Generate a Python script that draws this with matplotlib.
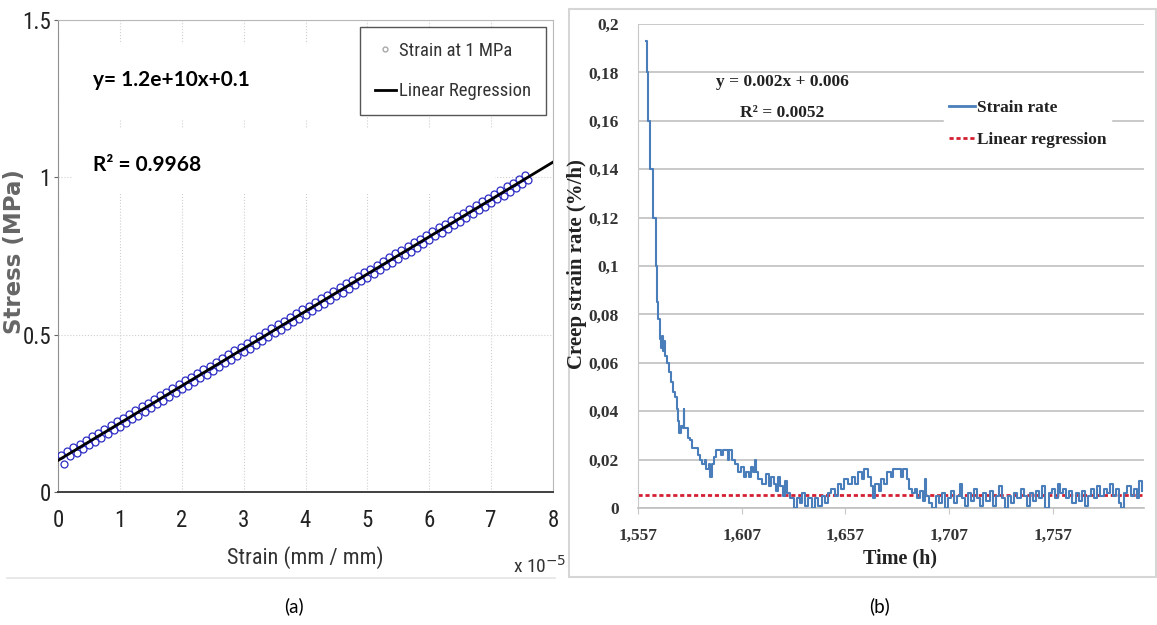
import matplotlib
matplotlib.use('Agg')
import matplotlib.pyplot as plt
import numpy as np
from matplotlib.patches import Rectangle
from matplotlib.lines import Line2D
from matplotlib.ticker import FuncFormatter

W, H = 1157, 625

# ---- (a) stress / strain, strain given in units of 1e-5 mm/mm
# the measured points form two interleaved rows around the fit line
strain_up = [0.05, 0.15, 0.25, 0.35, 0.45, 0.55, 0.65, 0.75, 0.85, 0.95,
             1.05, 1.15, 1.25, 1.35, 1.45, 1.55, 1.65, 1.75, 1.85, 1.95,
             2.05, 2.15, 2.25, 2.35, 2.45, 2.55, 2.65, 2.75, 2.85, 2.95,
             3.05, 3.15, 3.25, 3.35, 3.45, 3.55, 3.65, 3.75, 3.85, 3.95,
             4.05, 4.15, 4.25, 4.35, 4.45, 4.55, 4.65, 4.75, 4.85, 4.95,
             5.05, 5.15, 5.25, 5.35, 5.45, 5.55, 5.65, 5.75, 5.85, 5.95,
             6.05, 6.15, 6.25, 6.35, 6.45, 6.55, 6.65, 6.75, 6.85, 6.95,
             7.05, 7.15, 7.25, 7.35, 7.45, 7.55]
stress_up = [0.118, 0.130, 0.142, 0.153, 0.165, 0.177, 0.189, 0.201, 0.213, 0.225,
             0.236, 0.248, 0.260, 0.272, 0.284, 0.296, 0.308, 0.319, 0.331, 0.343,
             0.355, 0.367, 0.379, 0.390, 0.402, 0.414, 0.426, 0.438, 0.450, 0.462,
             0.473, 0.485, 0.497, 0.509, 0.521, 0.533, 0.544, 0.556, 0.568, 0.580,
             0.592, 0.604, 0.616, 0.627, 0.639, 0.651, 0.663, 0.675, 0.687, 0.699,
             0.710, 0.722, 0.734, 0.746, 0.758, 0.770, 0.781, 0.793, 0.805, 0.817,
             0.829, 0.841, 0.853, 0.864, 0.876, 0.888, 0.900, 0.912, 0.924, 0.935,
             0.947, 0.959, 0.971, 0.983, 0.995, 1.007]
strain_lo = [0.1, 0.2, 0.3, 0.4, 0.5, 0.6, 0.7, 0.8, 0.9, 1.0,
             1.1, 1.2, 1.3, 1.4, 1.5, 1.6, 1.7, 1.8, 1.9, 2.0,
             2.1, 2.2, 2.3, 2.4, 2.5, 2.6, 2.7, 2.8, 2.9, 3.0,
             3.1, 3.2, 3.3, 3.4, 3.5, 3.6, 3.7, 3.8, 3.9, 4.0,
             4.1, 4.2, 4.3, 4.4, 4.5, 4.6, 4.7, 4.8, 4.9, 5.0,
             5.1, 5.2, 5.3, 5.4, 5.5, 5.6, 5.7, 5.8, 5.9, 6.0,
             6.1, 6.2, 6.3, 6.4, 6.5, 6.6, 6.7, 6.8, 6.9, 7.0,
             7.1, 7.2, 7.3, 7.4, 7.5, 7.6]
stress_lo = [0.088, 0.113, 0.125, 0.136, 0.148, 0.160, 0.172, 0.184, 0.196, 0.207,
             0.219, 0.231, 0.243, 0.255, 0.267, 0.279, 0.290, 0.302, 0.314, 0.326,
             0.338, 0.350, 0.362, 0.373, 0.385, 0.397, 0.409, 0.421, 0.433, 0.444,
             0.456, 0.468, 0.480, 0.492, 0.504, 0.516, 0.527, 0.539, 0.551, 0.563,
             0.575, 0.587, 0.598, 0.610, 0.622, 0.634, 0.646, 0.658, 0.670, 0.681,
             0.693, 0.705, 0.717, 0.729, 0.741, 0.753, 0.764, 0.776, 0.788, 0.800,
             0.812, 0.824, 0.836, 0.847, 0.859, 0.871, 0.883, 0.895, 0.907, 0.918,
             0.930, 0.942, 0.954, 0.966, 0.978, 0.990]
xticks_a = [0, 1, 2, 3, 4, 5, 6, 7, 8]
yticks_a = [0, 0.5, 1, 1.5]
ytick_labels_a = ['0', '0.5', '1', '1.5']
eq_a = "y= 1.2e+10x+0.1"
r2_a = "R\u00b2 = 0.9968"

# ---- (b) creep strain rate over time
time_h = [1560.8, 1561.5, 1562.0, 1562.7, 1564.2, 1565.5, 1566.3, 1566.8, 1567.5, 1568.0,
          1568.5, 1569.0, 1569.5, 1570.2, 1571.0, 1572.0, 1573.0, 1574.0, 1575.0, 1575.8,
          1576.5, 1577.0, 1577.8, 1578.5, 1579.0, 1579.3, 1580.5, 1581.0, 1582.0, 1582.8,
          1585.0, 1585.8, 1587.0, 1588.0, 1589.5, 1590.0, 1591.0, 1591.8, 1592.5, 1593.5,
          1594.5, 1597.0, 1598.0, 1600.5, 1601.0, 1602.5, 1604.0, 1605.0, 1606.5, 1608.0,
          1609.0, 1610.5, 1611.5, 1612.5, 1613.5, 1614.0, 1615.0, 1617.0, 1618.5, 1620.0,
          1621.0, 1622.5, 1623.5, 1624.5, 1625.5, 1627.0, 1628.0, 1629.0, 1630.5, 1632.0,
          1633.5, 1635.0, 1636.0, 1637.5, 1639.0, 1641.0, 1642.5, 1644.0, 1645.5, 1647.0,
          1648.5, 1650.0, 1652.0, 1653.5, 1655.0, 1656.5, 1658.5, 1660.0, 1661.5, 1663.0,
          1665.0, 1666.0, 1668.0, 1669.5, 1670.5, 1671.5, 1673.0, 1674.0, 1675.5, 1677.0,
          1679.0, 1680.0, 1684.0, 1685.0, 1686.5, 1687.5, 1689.0, 1690.5, 1691.5, 1693.0,
          1694.5, 1695.5, 1696.0, 1697.5, 1699.0, 1700.5, 1702.0, 1703.5, 1705.0, 1706.5,
          1708.0, 1709.5, 1711.0, 1712.5, 1713.0, 1714.5, 1716.0, 1717.5, 1719.0, 1720.5,
          1722.0, 1723.5, 1725.0, 1726.5, 1728.0, 1729.5, 1731.0, 1732.5, 1734.0, 1735.5,
          1737.0, 1738.5, 1740.0, 1741.5, 1743.0, 1744.5, 1746.0, 1747.5, 1749.0, 1750.5,
          1752.0, 1753.5, 1755.0, 1756.5, 1758.0, 1759.5, 1760.5, 1762.0, 1763.5, 1765.0,
          1766.5, 1768.0, 1769.5, 1771.0, 1772.5, 1774.0, 1775.5, 1777.0, 1778.5, 1780.0,
          1781.5, 1783.0, 1784.5, 1786.0, 1787.5, 1789.0, 1790.0, 1791.5, 1793.0, 1794.5,
          1796.0, 1797.5, 1798.5, 1800.0]
rate = [0.193, 0.180, 0.160, 0.140, 0.120, 0.100, 0.085, 0.078, 0.070, 0.066,
        0.071, 0.065, 0.069, 0.063, 0.060, 0.056, 0.052, 0.048, 0.046, 0.041,
        0.036, 0.031, 0.034, 0.033, 0.041, 0.033, 0.033, 0.029, 0.028, 0.025,
        0.025, 0.022, 0.020, 0.018, 0.020, 0.016, 0.018, 0.013, 0.018, 0.021,
        0.024, 0.022, 0.024, 0.020, 0.024, 0.020, 0.018, 0.015, 0.017, 0.013,
        0.015, 0.013, 0.017, 0.015, 0.020, 0.015, 0.012, 0.010, 0.014, 0.009,
        0.013, 0.010, 0.007, 0.013, 0.009, 0.005, 0.011, 0.006, 0.004, 0.000,
        0.004, 0.002, 0.006, 0.001, 0.004, 0.000, 0.004, 0.001, 0.005, 0.002,
        0.006, 0.008, 0.005, 0.010, 0.008, 0.012, 0.010, 0.013, 0.010, 0.015,
        0.012, 0.016, 0.013, 0.009, 0.004, 0.010, 0.007, 0.012, 0.010, 0.015,
        0.013, 0.016, 0.013, 0.016, 0.012, 0.008, 0.006, 0.008, 0.004, 0.007,
        0.003, 0.012, 0.005, 0.002, 0.000, 0.005, 0.002, 0.006, 0.000, 0.004,
        0.007, 0.002, 0.005, 0.010, 0.004, 0.001, 0.006, 0.003, 0.008, 0.004,
        0.001, 0.006, 0.003, 0.007, 0.001, 0.005, 0.009, 0.004, 0.000, 0.005,
        0.002, 0.006, 0.004, 0.008, 0.005, 0.001, 0.006, 0.003, 0.007, 0.004,
        0.009, 0.000, 0.006, 0.008, 0.004, 0.010, 0.006, 0.008, 0.004, 0.007,
        0.002, 0.006, 0.003, 0.007, 0.001, 0.005, 0.008, 0.004, 0.009, 0.005,
        0.008, 0.006, 0.010, 0.005, 0.008, 0.002, 0.000, 0.006, 0.009, 0.005,
        0.008, 0.004, 0.011, 0.007]
reg_time = [1557, 1800]
reg_rate = [0.0055, 0.0055]
xticks_b = [1557, 1607, 1657, 1707, 1757]
yticks_b = [0, 0.02, 0.04, 0.06, 0.08, 0.1, 0.12, 0.14, 0.16, 0.18, 0.2]
eq_b = "y = 0.002x + 0.006"
r2_b = "R\u00b2 = 0.0052"

NARROW = ['Roboto Condensed', 'Liberation Sans Narrow', 'DejaVu Sans']
SERIF = ['Liberation Serif', 'DejaVu Serif']


def px(x0, y0, x1, y1):
    # pixel box (top-left origin) -> figure fraction rect
    return [x0 / W, 1 - y1 / H, (x1 - x0) / W, (y1 - y0) / H]


fig = plt.figure(figsize=(W / 100, H / 100), dpi=100)

# ================= panel (a)
ax1 = fig.add_axes(px(58, 20, 553, 492))
ax1.plot(strain_up, stress_up, 'o', mfc='none', mec='#2b2bc4', ms=5, mew=0.9, zorder=3)
ax1.plot(strain_lo, stress_lo, 'o', mfc='none', mec='#2b2bc4', ms=5, mew=0.9, zorder=3)
coef = np.polyfit(strain_up + strain_lo, stress_up + stress_lo, 1)
xl = np.array([0, 8])
ax1.plot(xl, np.polyval(coef, xl), color='black', lw=2, zorder=4)
ax1.set_xlim(0, 8)
ax1.set_ylim(0, 1.5)
ax1.set_xticks(xticks_a)
ax1.set_yticks(yticks_a)
ax1.set_yticklabels(ytick_labels_a)
ax1.grid(True, color='#cfcfcf', lw=0.8, ls=':')
ax1.set_axisbelow(True)
for t in ax1.get_xticklabels() + ax1.get_yticklabels():
    t.set_family(NARROW)
    t.set_stretch('condensed')
    t.set_fontsize(16.5)
    t.set_color('#222222')
ax1.tick_params(axis='x', length=0, pad=12)
ax1.tick_params(axis='y', length=3, pad=2, color='#666666')
for s in ['top', 'right']:
    ax1.spines[s].set_color('#b8b8b8')
ax1.spines['left'].set_color('#909090')
ax1.spines['bottom'].set_color('#404040')
ax1.spines['bottom'].set_linewidth(1.4)

# white boxes behind the equation
ax1.add_patch(Rectangle((0.03, 0.79), 0.50, 0.16, transform=ax1.transAxes,
                        color='white', zorder=2))
ax1.add_patch(Rectangle((0.03, 0.635), 0.85, 0.135, transform=ax1.transAxes,
                        color='white', zorder=2))
ax1.text(0.071, 0.873, eq_a, transform=ax1.transAxes, family='Lato',
         weight='bold', fontsize=15, va='center', zorder=5)
ax1.text(0.071, 0.693, r2_a, transform=ax1.transAxes, family='Lato',
         weight='bold', fontsize=15, va='center', zorder=5)

h_a = [Line2D([], [], ls='none', marker='o', mfc='none', mec='#a8a8a8', ms=3.5),
       Line2D([], [], color='black', lw=2)]
leg = ax1.legend(h_a, ['Strain at 1 MPa', 'Linear Regression'], loc='upper right',
                 prop={'family': NARROW, 'size': 13.5, 'stretch': 'condensed'},
                 fancybox=False, edgecolor='#555555', framealpha=1,
                 handlelength=1.1, handletextpad=0.2, labelspacing=1.2,
                 borderpad=0.8, borderaxespad=0.35)
leg.get_frame().set_linewidth(1.0)
for t in leg.get_texts():
    t.set_color('#333333')

fig.text(305 / W, 1 - 558 / H, 'Strain (mm / mm)', family=NARROW,
         stretch='condensed', fontsize=16, color='#333333', ha='center', va='center')
fig.text(513 / W, 1 - 566 / H, 'x 10$^{-5}$', family=NARROW, stretch='condensed',
         fontsize=14, color='#333333', ha='left', va='center')
fig.text(15 / W, 1 - 252 / H, 'Stress (MPa)', family='DejaVu Sans', weight='bold',
         fontsize=16.5, color='#666666', rotation=90, ha='center', va='center')
fig.add_artist(Line2D([7 / W, 555 / W], [1 - 578 / H, 1 - 578 / H],
                      color='#e4e4e4', lw=1.2))

# ================= panel (b)
fig.add_artist(Rectangle((569 / W, 1 - 577 / H), (1156 - 569) / W, (577 - 9) / H,
                         transform=fig.transFigure, fill=False,
                         edgecolor='#d6d6d6', lw=1.5))
ax2 = fig.add_axes(px(638, 24, 1144, 508))
ax2.plot(reg_time, reg_rate, color='#d42032', lw=2, dashes=(1.5, 1.0), zorder=2)
ax2.plot(time_h, rate, color='#4a7ebb', lw=1.5, drawstyle='steps-post', zorder=3)
ax2.set_xlim(1557, 1801)
ax2.set_ylim(0, 0.2)
ax2.set_xticks(xticks_b)
ax2.set_yticks(yticks_b)
ax2.xaxis.set_major_formatter(FuncFormatter(lambda v, p: f"{int(v):,}"))
ax2.yaxis.set_major_formatter(FuncFormatter(
    lambda v, p: '0' if v == 0 else f"{v:.2f}".rstrip('0').replace('.', ',')))
ax2.yaxis.grid(True, color='#c0c0c0', lw=1.2)
ax2.set_axisbelow(True)
for s in ['top', 'right']:
    ax2.spines[s].set_visible(False)
ax2.spines['left'].set_color('#c8c8c8')
ax2.spines['bottom'].set_color('#c0c0c0')
ax2.spines['bottom'].set_linewidth(1.2)
ax2.tick_params(axis='y', length=0, pad=14)
ax2.tick_params(axis='x', length=4, color='#c8c8c8', pad=10)
for t in ax2.get_xticklabels() + ax2.get_yticklabels():
    t.set_family(SERIF)
    t.set_weight('bold')
    t.set_fontsize(12.5)
    t.set_color('#333333')

ax2.text(0.285, 0.88, eq_b, transform=ax2.transAxes, family=SERIF, weight='bold',
         fontsize=12.5, ha='center', va='center', color='#222222')
ax2.text(0.285, 0.816, r2_b, transform=ax2.transAxes, family=SERIF, weight='bold',
         fontsize=12.5, ha='center', va='center', color='#222222')

h_b = [Line2D([], [], color='#4a7ebb', lw=2),
       Line2D([], [], color='#d42032', lw=2, dashes=(1.5, 1.0))]
leg2 = ax2.legend(h_b, ['Strain rate', 'Linear regression'], loc='upper left',
                  bbox_to_anchor=((935 - 638) / 506, (508 - 86) / 484),
                  prop={'family': SERIF, 'weight': 'bold', 'size': 12.5},
                  frameon=True, framealpha=1, edgecolor='white', fancybox=False,
                  handlelength=1.5, handletextpad=0.1, labelspacing=0.9,
                  borderpad=0.3)
for t in leg2.get_texts():
    t.set_color('#222222')

fig.text(900 / W, 1 - 558 / H, 'Time (h)', family=SERIF, weight='bold',
         fontsize=14.5, color='#222222', ha='center', va='center')
fig.text(577 / W, 1 - 264 / H, 'Creep strain rate (%/h)', family=SERIF,
         weight='bold', fontsize=15, color='#222222', rotation=90,
         ha='center', va='center')

# captions
fig.text(294 / W, 1 - 606 / H, '(a)', family='Lato', fontsize=13.5, ha='center',
         va='center')
fig.text(880 / W, 1 - 606 / H, '(b)', family='Lato', fontsize=13.5, ha='center',
         va='center')

plt.savefig('out.png', dpi=100)
plt.close()
